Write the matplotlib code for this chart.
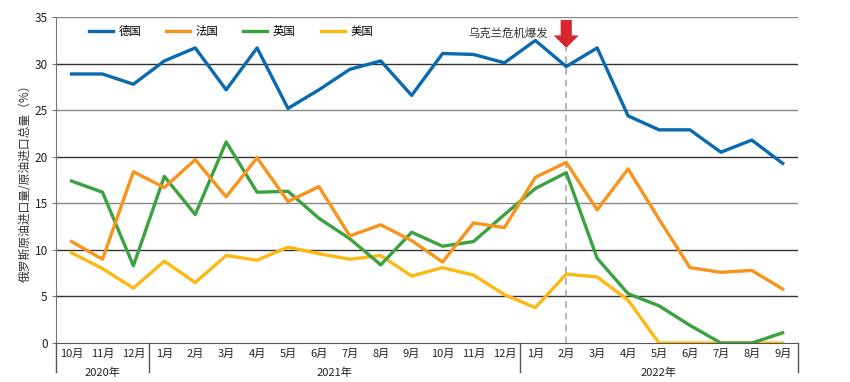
import numpy as np
import matplotlib.pyplot as plt
import matplotlib.transforms as mtransforms

plt.rcParams['font.family'] = ['Noto Sans CJK SC', 'DejaVu Sans']

months = ["10月", "11月", "12月",
          "1月", "2月", "3月", "4月", "5月", "6月", "7月", "8月", "9月", "10月", "11月", "12月",
          "1月", "2月", "3月", "4月", "5月", "6月", "7月", "8月", "9月"]
years = ["2020年", "2021年", "2022年"]
year_spans = [(0, 2), (3, 14), (15, 23)]

germany = [28.9, 28.9, 27.8, 30.3, 31.7, 27.2, 31.7, 25.2, 27.2, 29.4, 30.3, 26.6,
           31.1, 31.0, 30.1, 32.5, 29.7, 31.7, 24.4, 22.9, 22.9, 20.5, 21.8, 19.3]
france = [10.9, 9.0, 18.4, 16.7, 19.7, 15.7, 19.9, 15.2, 16.8, 11.5, 12.7, 11.0,
          8.7, 12.9, 12.4, 17.8, 19.4, 14.3, 18.7, 13.3, 8.1, 7.6, 7.8, 5.8]
uk = [17.4, 16.2, 8.3, 17.9, 13.8, 21.6, 16.2, 16.3, 13.4, 11.2, 8.4, 11.9,
      10.4, 10.9, 13.8, 16.6, 18.3, 9.1, 5.3, 4.0, 1.9, 0.0, 0.0, 1.1]
usa = [9.7, 8.0, 5.9, 8.8, 6.5, 9.4, 8.9, 10.3, 9.6, 9.0, 9.4, 7.2,
       8.1, 7.3, 5.2, 3.8, 7.4, 7.1, 4.6, 0.0, 0.0, 0.0, 0.0, 0.0]

crisis_idx = 16

fig = plt.figure(figsize=(8.5, 3.82), dpi=100)
ax = fig.add_axes([0.066, 0.102, 0.873, 0.853])
x = np.arange(len(months))

# grid lines
for v, c in [(5, '#333333'), (10, '#333333'), (15, '#888888'), (20, '#333333'),
             (25, '#888888'), (30, '#333333'), (35, '#888888')]:
    ax.axhline(v, color=c, lw=1.0, zorder=1)

ax.axvline(crisis_idx, ymin=0, ymax=0.905, color='#aaaaaa', lw=1.2, ls=(0, (4, 3)), zorder=2)

ax.plot(x, usa, color='#fdb913', lw=2.4, label='美国', zorder=3)
ax.plot(x, uk, color='#3aa241', lw=2.4, label='英国', zorder=4)
ax.plot(x, france, color='#f7941d', lw=2.4, label='法国', zorder=5)
ax.plot(x, germany, color='#0a6ab0', lw=2.4, label='德国', zorder=6)

ax.set_xlim(-0.5, 23.5)
ax.set_ylim(0, 35)
ax.set_yticks(range(0, 36, 5))
ax.tick_params(axis='y', labelsize=8.5, length=3, color='#777777', pad=3, labelcolor='#222222')
ax.set_xticks(x)
ax.set_xticklabels(months, fontsize=8)
ax.tick_params(axis='x', length=0, pad=4, labelcolor='#222222')

for s in ['top', 'right']:
    ax.spines[s].set_visible(False)
ax.spines['left'].set_color('#777777')
ax.spines['bottom'].set_color('#555555')
ax.spines['left'].set_bounds(0, 35)

ax.set_ylabel('俄罗斯原油进口量/原油进口总量（%）', fontsize=8.5, color='#333333', labelpad=2)

# year separators and labels below the axis
trans = mtransforms.blended_transform_factory(ax.transData, ax.transAxes)
for xs in [-0.5, 2.5, 14.5, 23.5]:
    ax.plot([xs, xs], [0, -0.09], transform=trans, color='#555555', lw=1.0, clip_on=False)
for name, (a, b) in zip(years, year_spans):
    ax.text((a + b) / 2, -0.092, name, transform=trans, ha='center', va='center',
            fontsize=8, color='#222222')

# crisis annotation
ax.annotate('', xy=(crisis_idx, 31.7), xytext=(crisis_idx, 34.7),
            arrowprops=dict(facecolor='#d7262c', edgecolor='none', width=8, headwidth=18, headlength=9),
            annotation_clip=False)
ax.text(crisis_idx - 0.6, 33.3, '乌克兰危机爆发', ha='right', va='center', fontsize=8.2, color='#333333')

handles, labels = ax.get_legend_handles_labels()
order = [3, 2, 1, 0]
ax.legend([handles[i] for i in order], [labels[i] for i in order], ncol=4, frameon=False,
          loc='upper left', bbox_to_anchor=(0.03, 1.005), fontsize=8.2, handlelength=2.1,
          columnspacing=2.2, handletextpad=0.5)

fig.savefig('out.png', dpi=100)
